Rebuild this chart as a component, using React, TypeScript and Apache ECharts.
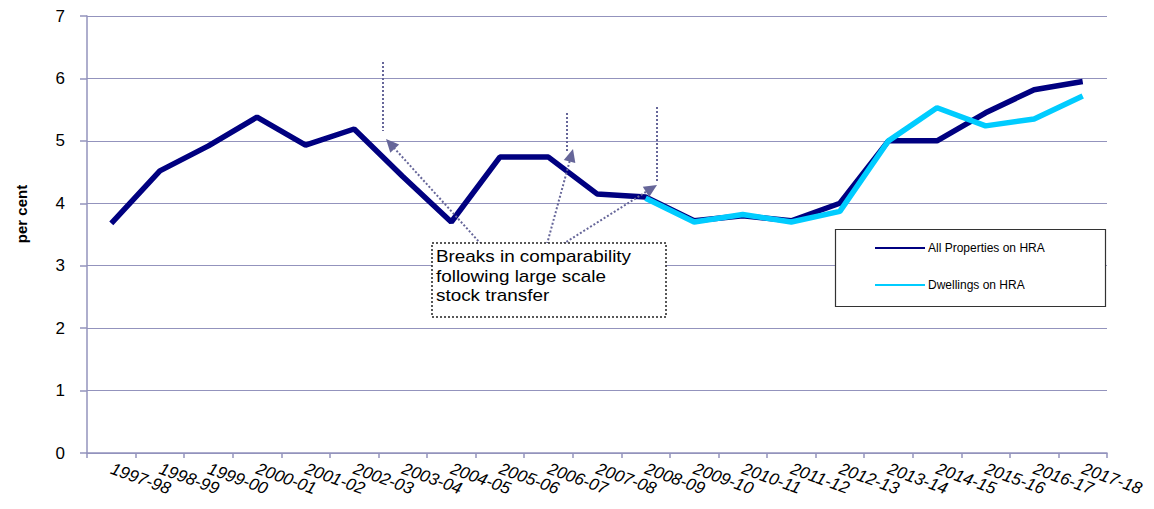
import React, { useEffect, useRef } from "react";
import * as echarts from "echarts";

// Financial years on the category axis
const categories = [
  "1997-98", "1998-99", "1999-00", "2000-01", "2001-02", "2002-03", "2003-04",
  "2004-05", "2005-06", "2006-07", "2007-08", "2008-09", "2009-10", "2010-11",
  "2011-12", "2012-13", "2013-14", "2014-15", "2015-16", "2016-17", "2017-18",
];

// Per cent values for each series
const allProperties = [
  3.68, 4.52, 4.92, 5.38, 4.93, 5.19, 4.43, 3.7, 4.74, 4.74, 4.15,
  4.1, 3.72, 3.8, 3.72, 4.0, 5.0, 5.0, 5.45, 5.82, 5.95,
];
const dwellings = [
  null, null, null, null, null, null, null, null, null, null, null,
  4.08, 3.7, 3.82, 3.7, 3.87, 5.0, 5.53, 5.24, 5.35, 5.72,
];

const seriesNames = ["All Properties on HRA", "Dwellings on HRA"];
const yTicks = { min: 0, max: 7, interval: 1 };
const noteLines = ["Breaks in comparability", "following large scale", "stock transfer"];

const FONT = "'Liberation Sans', Arial, Helvetica, sans-serif";
const AXIS_COLOR = "#9393bd";
const ARROW_COLOR = "#666699";

// Filled triangular arrow head pointing from (x1,y1) towards (x2,y2)
function arrowHead(x1: number, y1: number, x2: number, y2: number, len = 13, half = 6) {
  const dx = x2 - x1;
  const dy = y2 - y1;
  const d = Math.hypot(dx, dy);
  const ux = dx / d;
  const uy = dy / d;
  const bx = x2 - ux * len;
  const by = y2 - uy * len;
  return [
    [x2, y2],
    [bx - uy * half, by + ux * half],
    [bx + uy * half, by - ux * half],
  ];
}

function dottedLine(x1: number, y1: number, x2: number, y2: number) {
  return {
    type: "line",
    z: 20,
    shape: { x1, y1, x2, y2 },
    style: { stroke: ARROW_COLOR, lineWidth: 2, lineDash: [2, 2] },
  };
}

function arrow(x1: number, y1: number, x2: number, y2: number) {
  const head = arrowHead(x1, y1, x2, y2);
  const len = Math.hypot(x2 - x1, y2 - y1);
  const ex = x2 - ((x2 - x1) / len) * 10;
  const ey = y2 - ((y2 - y1) / len) * 10;
  return [
    dottedLine(x1, y1, ex, ey),
    {
      type: "polygon",
      z: 21,
      shape: { points: head },
      style: { fill: ARROW_COLOR },
    },
  ];
}

export default function App() {
  const ref = useRef<HTMLDivElement>(null);

  useEffect(() => {
    if (!ref.current) return;
    const chart = echarts.init(ref.current, undefined, { renderer: "svg" });

    chart.setOption({
      animation: false,
      backgroundColor: "#ffffff",
      textStyle: { fontFamily: FONT },
      grid: { left: 87, right: 47, top: 16, bottom: 56, containLabel: false },
      xAxis: {
        type: "category",
        data: categories,
        boundaryGap: true,
        axisLine: { lineStyle: { color: AXIS_COLOR, width: 1.5 } },
        axisTick: { show: true, length: 5, lineStyle: { color: AXIS_COLOR, width: 1.5 } },
        axisLabel: {
          rotate: -20,
          interval: 0,
          margin: 15,
          color: "#000",
          fontSize: 17,
          fontStyle: "italic",
          fontFamily: FONT,
        },
        splitLine: { show: false },
      },
      yAxis: {
        type: "value",
        min: yTicks.min,
        max: yTicks.max,
        interval: yTicks.interval,
        axisLine: { show: true, lineStyle: { color: AXIS_COLOR, width: 1.5 } },
        axisTick: { show: true, inside: false, length: 7, lineStyle: { color: AXIS_COLOR, width: 1.5 } },
        axisLabel: { color: "#000", fontSize: 17, margin: 22, fontFamily: FONT },
        splitLine: { show: true, lineStyle: { color: AXIS_COLOR, width: 1.2 } },
      },
      legend: {
        orient: "vertical",
        left: 875,
        top: 242,
        padding: 0,
        itemGap: 25,
        itemWidth: 50,
        itemHeight: 2,
        icon: "rect",
        z: 30,
        textStyle: { fontSize: 12, color: "#000", fontFamily: FONT, padding: [0, 0, 0, -2] },
        data: seriesNames,
      },
      series: [
        {
          name: seriesNames[0],
          type: "line",
          data: allProperties,
          symbol: "none",
          color: "#000080",
          lineStyle: { color: "#000080", width: 5.5 },
          z: 2,
        },
        {
          name: seriesNames[1],
          type: "line",
          data: dwellings,
          symbol: "none",
          color: "#00ccff",
          lineStyle: { color: "#00ccff", width: 5.5 },
          z: 3,
        },
      ],
      graphic: [
        // y-axis title
        {
          type: "text",
          x: 21,
          y: 214,
          rotation: Math.PI / 2,
          z: 20,
          style: {
            text: "per cent",
            fontSize: 15,
            fontWeight: "bold",
            fontFamily: FONT,
            fill: "#000",
            align: "center",
            verticalAlign: "middle",
          },
        },
        // legend frame
        {
          type: "rect",
          z: 25,
          shape: { x: 835.5, y: 229.5, width: 270, height: 77 },
          style: { fill: "#ffffff", stroke: "#333333", lineWidth: 1.2 },
        },
        // note box
        {
          type: "rect",
          z: 22,
          shape: { x: 432, y: 243, width: 234, height: 74 },
          style: { fill: "#ffffff", stroke: "#222222", lineWidth: 1.5, lineDash: [2, 2] },
        },
        {
          type: "text",
          z: 23,
          x: 436,
          y: 247,
          scaleX: 1.18,
          style: {
            text: noteLines.join("\n"),
            fontSize: 16,
            lineHeight: 19.5,
            fontFamily: FONT,
            fill: "#000",
          },
        },
        // break markers and pointers
        dottedLine(383, 62, 383, 131),
        dottedLine(567, 113, 567, 152),
        dottedLine(657, 107, 657, 182),
        ...arrow(481, 244, 386, 139),
        ...arrow(547, 244, 573, 149),
        ...arrow(563, 244, 657, 185),
      ],
    });

    return () => chart.dispose();
  }, []);

  return (
    <div
      ref={ref}
      style={{ position: "fixed", left: 0, top: 0, width: 1154, height: 509 }}
    />
  );
}
